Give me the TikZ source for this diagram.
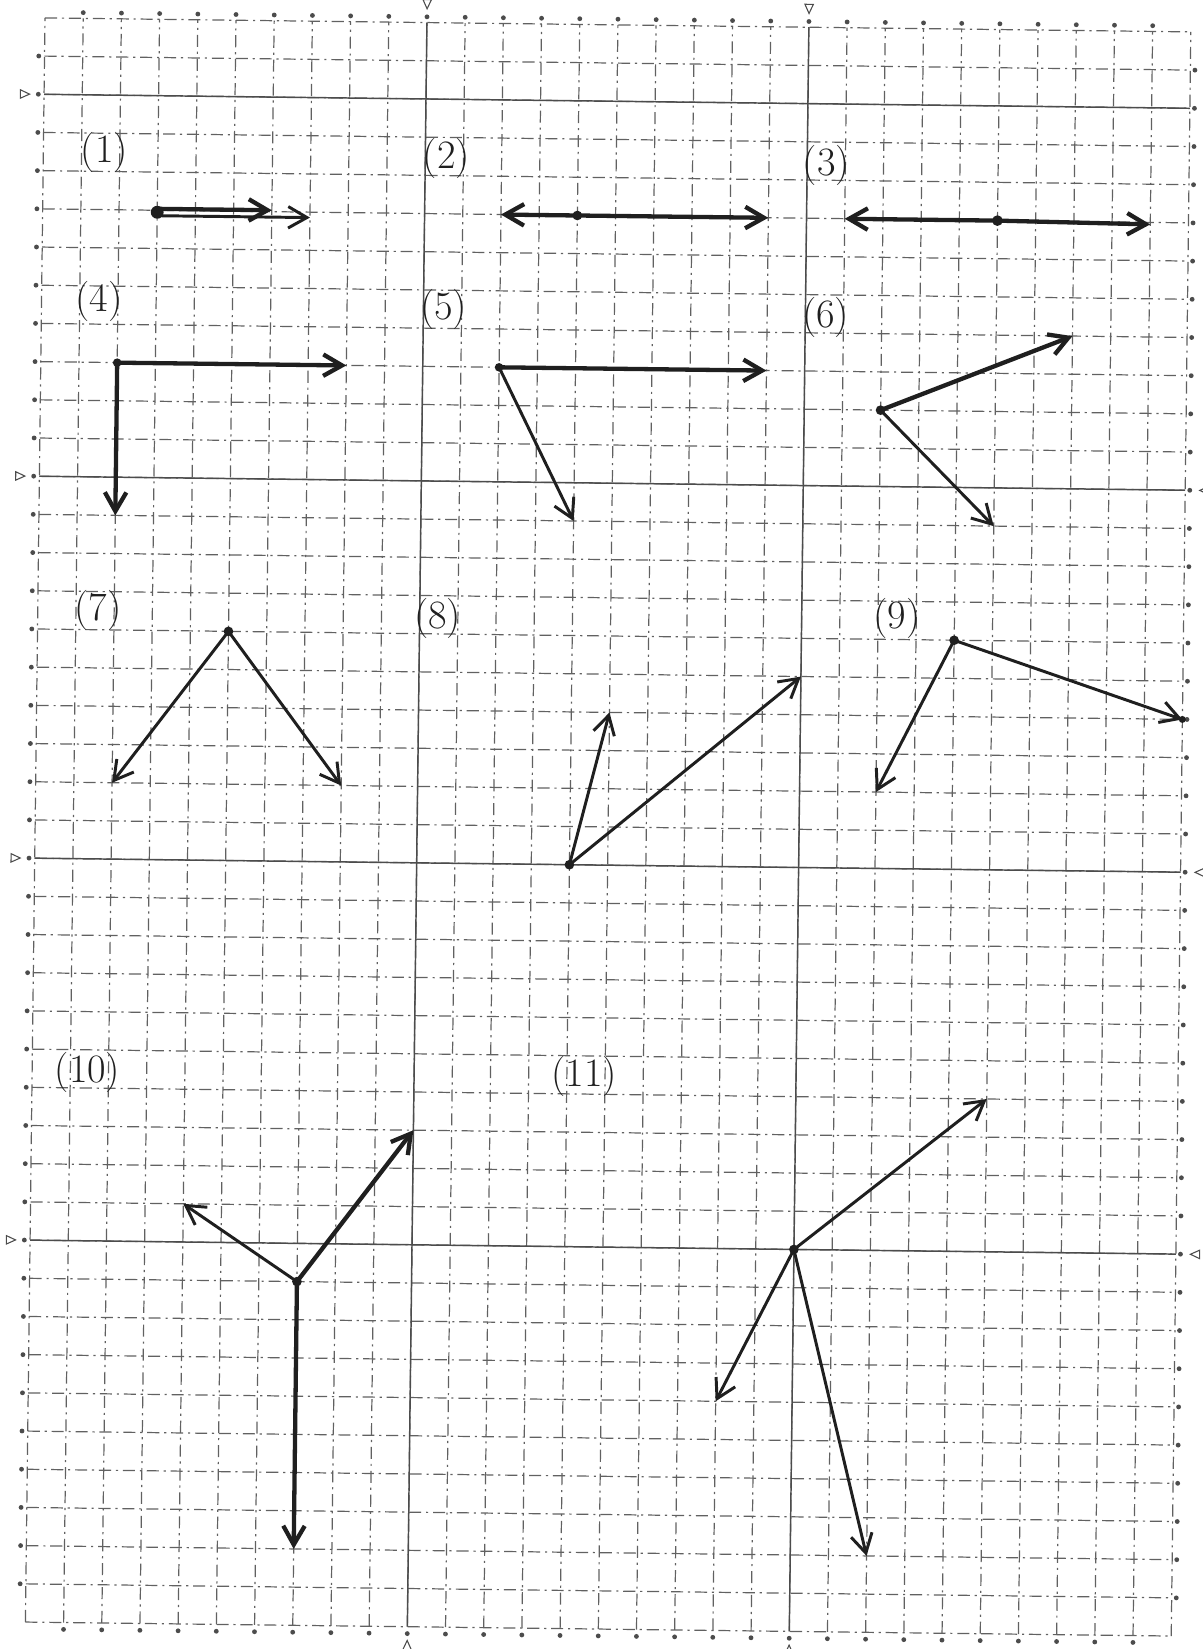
\documentclass[tikz,border=0pt]{standalone}
\usepackage{tikz}
\usetikzlibrary{arrows.meta}
\newcommand{\ncols}{30}
\newcommand{\nrows}{42}
\newcommand{\tilt}{-0.7}
\usepackage{xcolor}
\definecolor{paperline}{rgb}{0.38, 0.38, 0.38}
\definecolor{boldpaper}{rgb}{0.3, 0.3, 0.3}
\definecolor{pencil}{rgb}{0.12, 0.12, 0.12}

\begin{document}
\begin{tikzpicture}[x=0.5cm,y=0.5cm,every node/.style={inner sep=0},
    gridline/.style={paperline,line width=0.45pt,dash pattern=on 4.5pt off 1.8pt on 0.8pt off 1.8pt},
    boldline/.style={boldpaper,line width=0.55pt},
    edgedot/.style={boldpaper},
    vec/.style={pencil,line width=1.1pt,line cap=round,-{Straight Barb[length=7pt,width=8pt]}},
    heavyvec/.style={vec,line width=1.6pt},
    numlabel/.style={pencil,font=\fontsize{15}{18}\selectfont}]

    \useasboundingbox (0,0) rectangle (31.49,43.17);

    \begin{scope}[shift={(15.92,21.52)},rotate=\tilt,shift={(-15,-21)}]

        % paper
        \foreach \i in {0,...,\ncols}{
            \draw[gridline] (\i,0) -- (\i,\nrows);
        }
        \foreach \j in {0,...,\nrows}{
            \draw[gridline] (0,\j) -- (\ncols,\j);
        }
        \foreach \i in {10,20}{
            \draw[boldline] (\i,0) -- (\i,\nrows);
            \draw[boldline,line width=0.4pt] (\i-0.11,42.6) -- (\i+0.11,42.6) -- (\i,42.36) -- cycle; % top
            \draw[boldline,line width=0.4pt] (\i-0.11,-0.6) -- (\i+0.11,-0.6) -- (\i,-0.36) -- cycle; % bottom
        }
        \foreach \j in {10,20,30,40}{
            \draw[boldline] (0,\j) -- (\ncols,\j);
            \draw[boldline,line width=0.4pt] (-0.62,\j+0.11) -- (-0.62,\j-0.11) -- (-0.38,\j) -- cycle; % left
            \draw[boldline,line width=0.4pt] (30.62,\j+0.11) -- (30.62,\j-0.11) -- (30.38,\j) -- cycle; % right
        }
        \foreach \i in {1,...,29}{
            \fill[edgedot] (\i,42.15) circle (0.9pt);
            \fill[edgedot] (\i,-0.18) circle (0.9pt);
        }
        \foreach \j in {1,...,41}{
            \fill[edgedot] (-0.15,\j) circle (0.9pt);
            \fill[edgedot] (30.12,\j) circle (0.9pt);
        }

        % numbers
        \node[numlabel] (n1) at (1.6,38.5) {(1)};
        \node[numlabel] (n2) at (10.55,38.45) {(2)};
        \node[numlabel] (n3) at (20.5,38.4) {(3)};
        \node[numlabel] (n4) at (1.5,34.6) {(4)};
        \node[numlabel] (n5) at (10.53,34.5) {(5)};
        \node[numlabel] (n6) at (20.53,34.4) {(6)};
        \node[numlabel] (n7) at (1.58,26.5) {(7)};
        \node[numlabel] (n8) at (10.47,26.4) {(8)};
        \node[numlabel] (n9) at (22.5,26.55) {(9)};
        \node[numlabel] (n10) at (1.45,14.4) {(10)};
        \node[numlabel] (n11) at (14.45,14.45) {(11)};

        % vectors
        \coordinate (o1) at (3,36.95);
        \coordinate (o1a) at (3,37.04);
        \coordinate (a1) at (6,37.04);
        \coordinate (o1b) at (3,36.86);
        \coordinate (b1) at (7,36.86);
        \draw[heavyvec] (o1a) -- (a1);
        \draw[vec] (o1b) -- (b1);
        \fill[pencil] (o1) circle (2.4pt);

        \coordinate (o2) at (14,37);
        \coordinate (l2) at (12,37);
        \coordinate (r2) at (19,37);
        \draw[heavyvec] (o2) -- (l2);
        \draw[heavyvec] (o2) -- (r2);
        \fill[pencil] (o2) circle (1.8pt);

        \coordinate (o3) at (25,37);
        \coordinate (l3) at (21,37);
        \coordinate (r3) at (29,36.95);
        \draw[heavyvec] (o3) -- (l3);
        \draw[heavyvec] (o3) -- (r3);
        \fill[pencil] (o3) circle (2pt);

        \coordinate (o4) at (2,33);
        \coordinate (r4) at (8,33);
        \coordinate (d4) at (2,29);
        \draw[heavyvec] (o4) -- (r4);
        \draw[heavyvec] (o4) -- (d4);
        \fill[pencil] (o4) circle (1.6pt);

        \coordinate (o5) at (12,33);
        \coordinate (r5) at (19,33);
        \coordinate (d5) at (14,29);
        \draw[heavyvec] (o5) -- (r5);
        \draw[vec] (o5) -- (d5);
        \fill[pencil] (o5) circle (1.6pt);

        \coordinate (o6) at (22,32);
        \coordinate (u6) at (27,34);
        \coordinate (d6) at (25,29);
        \draw[heavyvec] (o6) -- (u6);
        \draw[vec] (o6) -- (d6);
        \fill[pencil] (o6) circle (1.8pt);

        \coordinate (o7) at (5,26);
        \coordinate (l7) at (2,22);
        \coordinate (r7) at (8,22);
        \draw[vec] (o7) -- (l7);
        \draw[vec] (o7) -- (r7);
        \fill[pencil] (o7) circle (1.8pt);

        \coordinate (o8) at (14,20);
        \coordinate (u8) at (15,24);
        \coordinate (r8) at (20,25);
        \draw[vec] (o8) -- (u8);
        \draw[vec] (o8) -- (r8);
        \fill[pencil] (o8) circle (1.8pt);

        \coordinate (o9) at (24,26);
        \coordinate (l9) at (22,22);
        \coordinate (r9) at (30,24);
        \draw[vec] (o9) -- (l9);
        \draw[vec] (o9) -- (r9);
        \fill[pencil] (o9) circle (1.8pt);
        \fill[pencil] (r9) circle (1.3pt);

        \coordinate (o10) at (7,9);
        \coordinate (l10) at (4,11);
        \coordinate (u10) at (10,13);
        \coordinate (d10) at (7,2);
        \draw[vec] (o10) -- (l10);
        \draw[heavyvec] (o10) -- (u10);
        \draw[heavyvec] (o10) -- (d10);
        \fill[pencil] (o10) circle (1.8pt);

        \coordinate (o11) at (20,10);
        \coordinate (u11) at (25,14);
        \coordinate (l11) at (18,6);
        \coordinate (d11) at (22,2);
        \draw[vec] (o11) -- (u11);
        \draw[vec] (o11) -- (l11);
        \draw[vec] (o11) -- (d11);
        \fill[pencil] (o11) circle (1.8pt);

    \end{scope}
\end{tikzpicture}
\end{document}
